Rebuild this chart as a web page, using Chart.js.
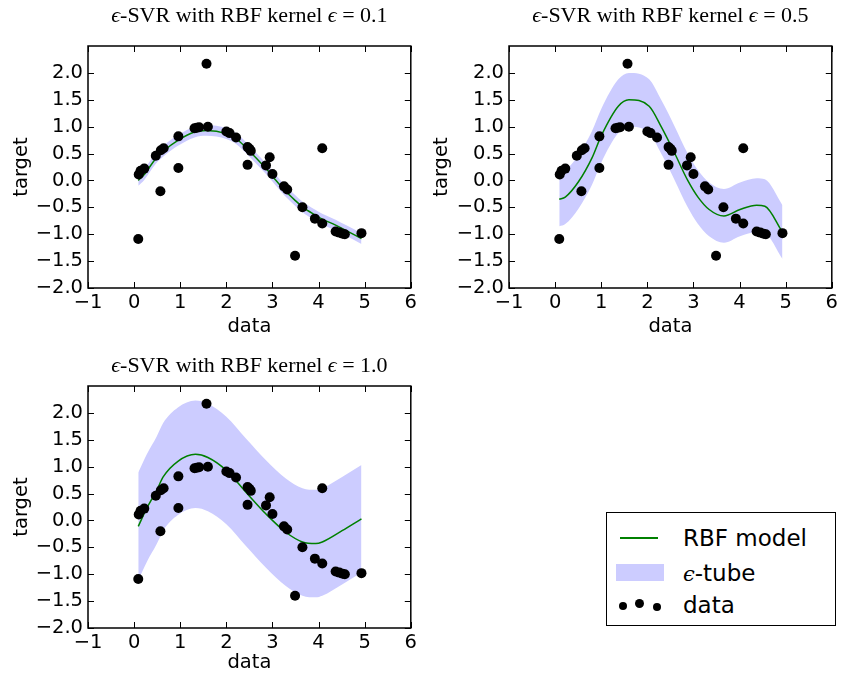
<!DOCTYPE html>
<html>
<head>
<meta charset="utf-8">
<script src="https://cdn.jsdelivr.net/npm/chart.js@4.4.0/dist/chart.umd.min.js"></script>
<style>
  html, body { margin: 0; padding: 0; background: #fff; }
  #wrap { position: relative; width: 841px; height: 675px; overflow: hidden; }
  #wrap canvas { position: absolute; }
  #legend { position: absolute; left: 606px; top: 512px; width: 230px; height: 114px;
            box-sizing: border-box; border: 1.5px solid #000; background: #fff;
            font-family: "DejaVu Sans", sans-serif; font-size: 23px; color: #000; }
  #legend .lbl { position: absolute; left: 76px; height: 28px; line-height: 28px; white-space: nowrap; }
  #legend .dot { position: absolute; border-radius: 50%; background: #000; }
</style>
</head>
<body>
<div id="wrap">
  <canvas id="c1" width="420" height="340" style="left:0;top:0"></canvas>
  <canvas id="c2" width="421" height="340" style="left:420px;top:0"></canvas>
  <canvas id="c3" width="420" height="335" style="left:0;top:340px"></canvas>
  <div id="legend">
    <div style="position:absolute;left:13px;top:24px;width:38px;height:2px;background:#008000"></div>
    <div class="lbl" style="top:11px">RBF model</div>
    <div style="position:absolute;left:9px;top:51px;width:48px;height:17px;background:#ccccff"></div>
    <div class="lbl" style="top:46px"><i style="font-family:'DejaVu Serif',serif;font-size:21px">ϵ</i>-tube</div>
    <div class="dot" style="left:12px;top:89px;width:8px;height:8px"></div>
    <div class="dot" style="left:28px;top:86px;width:9px;height:9px"></div>
    <div class="dot" style="left:46px;top:90px;width:8px;height:8px"></div>
    <div class="lbl" style="top:78px">data</div>
  </div>
</div>
<script>
// data points
const dataX = [0.09, 0.10, 0.14, 0.22, 0.47, 0.57, 0.58, 0.64, 0.96, 0.96, 1.31, 1.36, 1.41, 1.57, 1.60,
               2.00, 2.07, 2.21, 2.46, 2.46, 2.50, 2.53, 2.86, 2.94, 3.00, 3.25, 3.32, 3.49, 3.65,
               3.92, 4.08, 4.08, 4.37, 4.45, 4.52, 4.57, 4.93];
const dataY = [-1.09, 0.11, 0.18, 0.22, 0.46, -0.20, 0.56, 0.60, 0.82, 0.23, 0.97, 0.98, 0.99, 2.17, 1.00,
               0.91, 0.88, 0.80, 0.62, 0.29, 0.59, 0.55, 0.28, 0.43, 0.12, -0.11, -0.17, -1.40, -0.50,
               -0.71, -0.80, 0.60, -0.95, -0.97, -0.99, -1.00, -0.98];

// RBF model, eps = 0.1
const m1X = [0.09, 0.22, 0.47, 0.64, 0.96, 1.31, 1.57, 2.00, 2.21, 2.46, 2.86, 3.00, 3.25, 3.49, 3.65, 3.92, 4.08, 4.37, 4.57, 4.93];
const m1Y = [0.00, 0.11, 0.41, 0.55, 0.75, 0.90, 0.93, 0.87, 0.78, 0.58, 0.22, 0.08, -0.17, -0.37, -0.49, -0.64, -0.72, -0.83, -0.92, -1.08];
// eps = 0.5
const m2X = [0.09, 0.22, 0.51, 0.80, 1.00, 1.37, 1.60, 2.04, 2.30, 2.59, 2.87, 3.09, 3.34, 3.66, 4.01, 4.37, 4.55, 4.93];
const m2Y = [-0.35, -0.31, -0.02, 0.42, 0.83, 1.38, 1.50, 1.38, 1.00, 0.51, 0.01, -0.30, -0.54, -0.66, -0.54, -0.46, -0.48, -0.96];
// eps = 1.0
const m3X = [0.09, 0.27, 0.49, 0.63, 0.95, 1.33, 1.60, 2.00, 2.42, 2.86, 3.29, 3.65, 3.94, 4.08, 4.51, 4.93];
const m3Y = [-0.11, 0.22, 0.56, 0.81, 1.10, 1.23, 1.17, 0.93, 0.53, 0.12, -0.22, -0.40, -0.43, -0.40, -0.19, 0.03];

const xTicks = [-1, 0, 1, 2, 3, 4, 5, 6];
const yTicks = [-2.0, -1.5, -1.0, -0.5, 0.0, 0.5, 1.0, 1.5, 2.0];

const tickFont = { family: "'DejaVu Sans', sans-serif", size: 19.5 };

function fmt(v, digits) {
    return v.toFixed(digits).replace('-', '\u2212');
}

// frame, inward ticks on all four sides, and the title with italic epsilon
const framePlugin = {
    id: 'frame',
    afterDatasetsDraw(chart, args, opts) {
        const ctx = chart.ctx;
        const a = chart.chartArea;
        const sx = chart.scales.x, sy = chart.scales.y;
        ctx.save();
        ctx.strokeStyle = '#000';
        ctx.lineWidth = 1;
        ctx.beginPath();
        xTicks.forEach(v => {
            let px = Math.round(sx.getPixelForValue(v)) + 0.5;
            ctx.moveTo(px, a.bottom); ctx.lineTo(px, a.bottom - 6);
            ctx.moveTo(px, a.top); ctx.lineTo(px, a.top + 6);
        });
        yTicks.forEach(v => {
            let py = Math.round(sy.getPixelForValue(v)) + 0.5;
            ctx.moveTo(a.left, py); ctx.lineTo(a.left + 6, py);
            ctx.moveTo(a.right, py); ctx.lineTo(a.right - 6, py);
        });
        ctx.stroke();
        ctx.lineWidth = 1.5;
        ctx.strokeRect(a.left, a.top, a.right - a.left, a.bottom - a.top);

        // title
        const parts = [
            { t: '\u03F5', it: true },
            { t: '-SVR with RBF kernel ', it: false },
            { t: '\u03F5', it: true },
            { t: ' = ' + opts.eps, it: false }
        ];
        const fontOf = p => (p.it ? 'italic ' : '') + "22px 'Liberation Serif', 'DejaVu Serif', serif";
        let total = 0;
        parts.forEach(p => { ctx.font = fontOf(p); p.w = ctx.measureText(p.t).width; total += p.w; });
        let x = (a.left + a.right) / 2 - total / 2;
        ctx.fillStyle = '#000';
        ctx.textBaseline = 'alphabetic';
        ctx.textAlign = 'left';
        parts.forEach(p => { ctx.font = fontOf(p); ctx.fillText(p.t, x, a.top - opts.gap); x += p.w; });
        ctx.restore();
    }
};

function drawSvrChart(id, modelX, modelY, eps, g) {
    const line = modelX.map((x, i) => ({ x: x, y: modelY[i] }));
    const upper = modelX.map((x, i) => ({ x: x, y: modelY[i] + eps }));
    const lower = modelX.map((x, i) => ({ x: x, y: modelY[i] - eps }));
    const points = dataX.map((x, i) => ({ x: x, y: dataY[i] }));

    return new Chart(document.getElementById(id), {
        type: 'scatter',
        data: {
            datasets: [{
                label: 'data',
                data: points,
                backgroundColor: '#000',
                borderWidth: 0,
                pointRadius: 5,
                order: 0
            }, {
                type: 'line',
                label: 'RBF model',
                data: line,
                borderColor: '#008000',
                borderWidth: 1.5,
                pointRadius: 0,
                cubicInterpolationMode: 'monotone',
                fill: false,
                order: 1
            }, {
                type: 'line',
                label: 'tube',
                data: upper,
                borderWidth: 0,
                borderColor: 'rgba(0,0,0,0)',
                backgroundColor: '#ccccff',
                pointRadius: 0,
                cubicInterpolationMode: 'monotone',
                fill: '+1',
                order: 2
            }, {
                type: 'line',
                label: 'tube low',
                data: lower,
                borderWidth: 0,
                borderColor: 'rgba(0,0,0,0)',
                pointRadius: 0,
                cubicInterpolationMode: 'monotone',
                fill: false,
                order: 3
            }]
        },
        options: {
            responsive: false,
            animation: false,
            layout: { padding: { left: 0, right: g.right, top: 46, bottom: 0 } },
            plugins: {
                legend: { display: false },
                tooltip: { enabled: false },
                frame: { eps: eps.toFixed(1), gap: g.gap }
            },
            scales: {
                x: {
                    type: 'linear',
                    min: -1, max: 6,
                    grid: { display: false, drawTicks: false },
                    border: { display: false },
                    afterBuildTicks: s => { s.ticks = xTicks.map(v => ({ value: v })); },
                    afterFit: s => { s.height = g.xh; },
                    ticks: { color: '#000', font: tickFont, padding: 3, maxRotation: 0,
                             callback: v => fmt(v, 0) },
                    title: { display: true, text: 'data', color: '#000', font: tickFont,
                             padding: { top: 0, bottom: g.xtb } }
                },
                y: {
                    type: 'linear',
                    min: -2, max: 2.5,
                    grid: { display: false, drawTicks: false },
                    border: { display: false },
                    afterBuildTicks: s => { s.ticks = yTicks.map(v => ({ value: v })); },
                    afterFit: s => { s.width = g.yw; },
                    ticks: { color: '#000', font: tickFont, padding: 5,
                             callback: v => fmt(v, 1) },
                    title: { display: true, text: 'target', color: '#000', font: tickFont,
                             padding: { top: 10, bottom: 0 } }
                }
            }
        },
        plugins: [framePlugin]
    });
}

drawSvrChart('c1', m1X, m1Y, 0.1, { yw: 88, right: 8, xh: 52, xtb: 1, gap: 24 });
drawSvrChart('c2', m2X, m2Y, 0.5, { yw: 89, right: 5, xh: 52, xtb: 1, gap: 24 });
drawSvrChart('c3', m3X, m3Y, 1.0, { yw: 88, right: 8, xh: 47, xtb: 0, gap: 14 });
</script>
</body>
</html>
